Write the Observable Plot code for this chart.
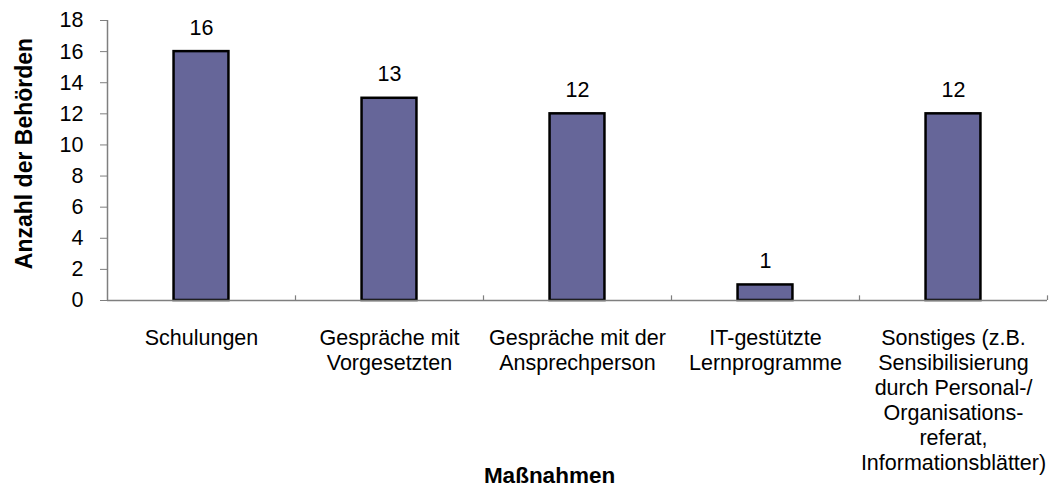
<!DOCTYPE html>
<html><head><meta charset="utf-8">
<script src="https://cdn.jsdelivr.net/npm/d3@7"></script>
<script src="https://cdn.jsdelivr.net/npm/@observablehq/plot@0.6"></script>
<style>body{margin:0;background:#fff;}</style>
</head><body><div id="chart"></div>
<script>
const categories = [
  "Schulungen",
  "Gespräche mit\nVorgesetzten",
  "Gespräche mit der\nAnsprechperson",
  "IT-gestützte\nLernprogramme",
  "Sonstiges (z.B.\nSensibilisierung\ndurch Personal-/\nOrganisations-\nreferat,\nInformationsblätter)"
];
const values = [16, 13, 12, 1, 12];
const yTicks = [0, 2, 4, 6, 8, 10, 12, 14, 16, 18];
const xTitle = "Maßnahmen";
const yTitle = "Anzahl der Behörden";

const data = categories.map((c, i) => ({category: c, value: values[i], pos: i}));
const barHalf = 0.146;
const font = "'Liberation Sans', Arial, sans-serif";
const axisColor = "#7f7f7f";

const chart = Plot.plot({
  width: 1053, height: 493,
  marginLeft: 107, marginRight: 6, marginTop: 20, marginBottom: 193,
  style: {fontFamily: font, fontSize: "21.5px", color: "#000", background: "#fff", overflow: "visible"},
  x: {domain: [0, categories.length], axis: null},
  y: {domain: [0, 18], axis: null},
  marks: [
    Plot.rectY(data, {x1: d => d.pos + 0.5 - barHalf, x2: d => d.pos + 0.5 + barHalf, y: "value", fill: "#666699", stroke: "#000", strokeWidth: 2.5}),
    Plot.ruleY([0], {stroke: axisColor, strokeWidth: 1.5}),
    Plot.ruleX([0], {stroke: axisColor, strokeWidth: 1.5}),
    Plot.axisY({ticks: yTicks, tickSize: 7, tickPadding: 17, label: null, stroke: axisColor, fill: "#000", fontSize: 21.5}),
    Plot.ruleX(d3.range(1, categories.length + 1), {y1: 0, y2: 0.3, stroke: axisColor, strokeWidth: 1.2}),
    Plot.text(data, {x: d => d.pos + 0.5, y: "value", text: d => String(d.value), dy: -24, fontSize: 21.5, fill: "#000"}),
    Plot.text(data, {x: d => d.pos + 0.5, y: 0, text: "category", lineAnchor: "top", dy: 27, lineHeight: 1.16, fontSize: 21.5, fill: "#000"}),
    Plot.text([xTitle], {frameAnchor: "bottom", textAnchor: "middle", dx: -28, dy: 182, fontWeight: "bold", fontSize: 22.5, fill: "#000"}),
    Plot.text([yTitle], {frameAnchor: "left", textAnchor: "middle", rotate: -90, dx: -83, dy: -7, fontWeight: "bold", fontSize: 23, fill: "#000"})
  ]
});
document.getElementById("chart").appendChild(chart);
</script>
</body></html>
